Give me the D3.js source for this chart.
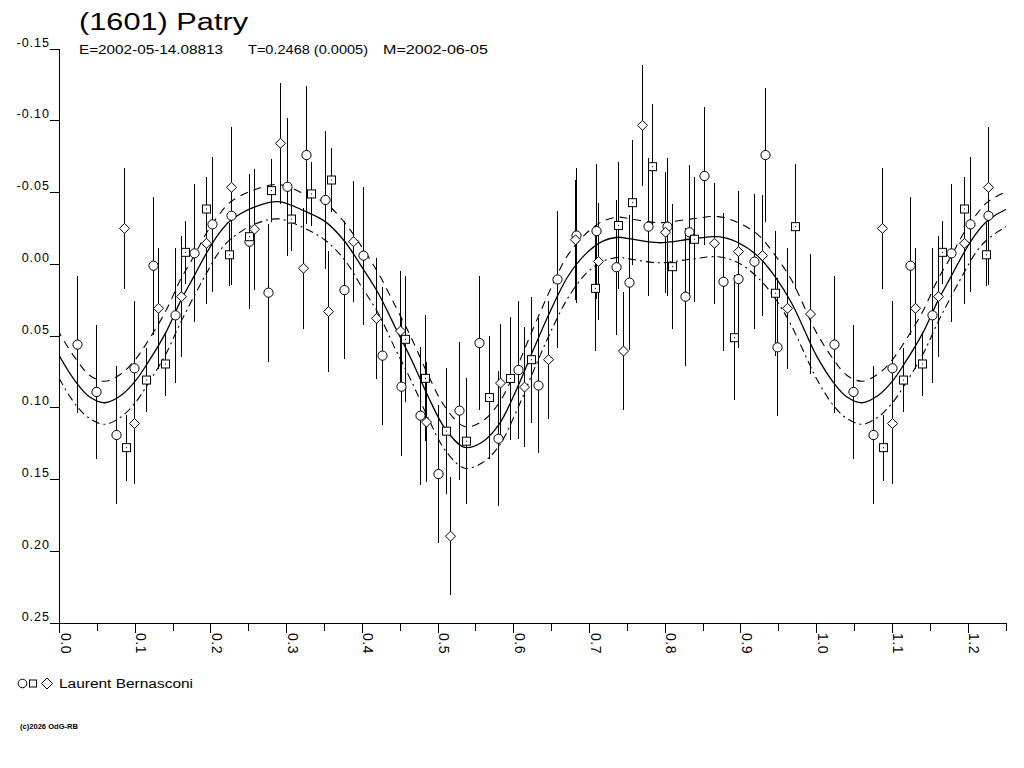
<!DOCTYPE html>
<html>
<head>
<meta charset="utf-8">
<script src="https://cdn.jsdelivr.net/npm/d3@7"></script>
<style>
  html, body { margin: 0; padding: 0; background: #fff; }
  svg { display: block; }
  text { font-family: "Liberation Sans", Arial, sans-serif; fill: #000; }
</style>
</head>
<body>
<svg id="chart" width="1024" height="768"></svg>
<script>
// ---------- data (phase, magnitude, error) ----------
const circleData = [
  [0.023, 0.056, 0.048], [0.048, 0.089, 0.047], [0.074, 0.119, 0.048], [0.099, 0.0725, 0.047],
  [0.1235, 0.001, 0.048], [0.152, 0.0356, 0.047], [0.177, -0.0076, 0.048], [0.202, -0.0278, 0.047],
  [0.226, -0.0338, 0.048], [0.250, -0.0157, 0.047], [0.276, 0.0198, 0.048], [0.3005, -0.054, 0.048],
  [0.326, -0.0761, 0.048], [0.3506, -0.0448, 0.048], [0.3753, 0.018, 0.048], [0.4004, -0.006, 0.048],
  [0.4255, 0.0637, 0.048], [0.4506, 0.0853, 0.048], [0.4757, 0.1055, 0.048], [0.5003, 0.1462, 0.048],
  [0.527, 0.102, 0.048], [0.5535, 0.0549, 0.047], [0.5788, 0.1216, 0.047], [0.6058, 0.0737, 0.048],
  [0.6317, 0.0845, 0.047], [0.6575, 0.0106, 0.048], [0.6826, -0.020, 0.047], [0.7085, -0.0231, 0.047],
  [0.735, 0.0021, 0.047], [0.7525, 0.0128, 0.047], [0.7768, -0.0262, 0.048], [0.8019, -0.0262, 0.048],
  [0.826, 0.0226, 0.048], [0.8314, -0.0223, 0.047], [0.8512, -0.0615, 0.048], [0.8758, 0.0122, 0.048],
  [0.8965, 0.0103, 0.048], [0.9168, -0.0018, 0.047], [0.9322, -0.0761, 0.047], [0.948, 0.0579, 0.048]
];
const squareData = [
  [0.0874, 0.1278, 0.023], [0.1138, 0.0807, 0.022], [0.139, 0.0695, 0.022], [0.1657, -0.0083, 0.022],
  [0.194, -0.0385, 0.022], [0.2234, -0.0066, 0.022], [0.2507, -0.0192, 0.022], [0.279, -0.0513, 0.022],
  [0.3057, -0.0315, 0.022], [0.3317, -0.049, 0.022], [0.3586, -0.0587, 0.022], [0.4559, 0.0523, 0.044],
  [0.4823, 0.0795, 0.044], [0.5098, 0.1163, 0.044], [0.5366, 0.1233, 0.044], [0.5675, 0.0929, 0.043],
  [0.5948, 0.0796, 0.043], [0.6221, 0.0665, 0.044], [0.7076, 0.0168, 0.044], [0.7372, -0.027, 0.044],
  [0.7557, -0.0429, 0.0435], [0.7829, -0.068, 0.0435], [0.8093, 0.0017, 0.0435], [0.8375, -0.0174, 0.0435],
  [0.8908, 0.0512, 0.0435], [0.9454, 0.0202, 0.0435], [0.9714, -0.0262, 0.0435]
];
const diamondData = [
  [0.0856, -0.025, 0.042], [0.0988, 0.111, 0.042], [0.130, 0.0307, 0.042], [0.1605, 0.0226, 0.042],
  [0.194, -0.0146, 0.042], [0.226, -0.0536, 0.042], [0.257, -0.0244, 0.042], [0.2908, -0.0843, 0.042],
  [0.3212, 0.0028, 0.042], [0.3542, 0.033, 0.042], [0.3876, -0.0157, 0.042], [0.418, 0.0377, 0.042],
  [0.4497, 0.0465, 0.042], [0.4836, 0.110, 0.042], [0.5157, 0.1895, 0.041], [0.5812, 0.0828, 0.041],
  [0.613, 0.0856, 0.042], [0.6453, 0.0665, 0.041], [0.6803, -0.017, 0.042], [0.7117, -0.002, 0.041],
  [0.744, 0.0605, 0.041], [0.7689, -0.0968, 0.042], [0.7997, -0.0223, 0.042], [0.8648, -0.0146, 0.042],
  [0.896, -0.0088, 0.042], [0.9274, -0.006, 0.042], [0.9612, 0.0307, 0.042], [0.9916, 0.0347, 0.042]
];

// fitted curve (phase, magnitude, band half-width)
const fitPhase = [0.000, 0.023, 0.040, 0.060, 0.082, 0.100, 0.115, 0.140, 0.160, 0.177, 0.194, 0.210,
  0.226, 0.258, 0.289, 0.324, 0.351, 0.377, 0.399, 0.421, 0.443, 0.465, 0.487, 0.509, 0.535, 0.558,
  0.580, 0.603, 0.626, 0.648, 0.671, 0.694, 0.717, 0.739, 0.750, 0.791, 0.835, 0.870, 0.8965, 0.923,
  0.945, 0.967, 0.989];
const fitMag = [0.064, 0.083, 0.0925, 0.0965, 0.0911, 0.0815, 0.0700, 0.0480, 0.0255, 0.0090, -0.0076, -0.0210,
  -0.0305, -0.0400, -0.0436, -0.0370, -0.0297, -0.0157, 0.0017, 0.0202, 0.0435, 0.0667, 0.0923, 0.1143, 0.1276, 0.1240,
  0.1120, 0.0880, 0.0593, 0.0329, 0.0089, -0.0067, -0.0159, -0.0188, -0.0180, -0.0150, -0.0176, -0.0192, -0.0150, -0.0053,
  0.0087, 0.0272, 0.0520];
const fitBand = [0.016, 0.016, 0.015, 0.015, 0.015, 0.015, 0.015, 0.015, 0.015, 0.014, 0.014, 0.013,
  0.013, 0.012, 0.012, 0.012, 0.013, 0.013, 0.014, 0.014, 0.015, 0.015, 0.015, 0.015, 0.0145, 0.0145,
  0.015, 0.015, 0.015, 0.015, 0.015, 0.014, 0.014, 0.014, 0.014, 0.014, 0.014, 0.014, 0.014, 0.015,
  0.015, 0.016, 0.016];

const yTicks = [-0.15, -0.10, -0.05, 0.00, 0.05, 0.10, 0.15, 0.20, 0.25];
const xTicks = [0.0, 0.1, 0.2, 0.3, 0.4, 0.5, 0.6, 0.7, 0.8, 0.9, 1.0, 1.1, 1.2];
const xMinorTicks = [0.05, 0.15, 0.25, 0.35, 0.45, 0.55, 0.65, 0.75, 0.85, 0.95, 1.05, 1.15, 1.25];

const titleText = "(1601) Patry";
const subtitleParts = ["E=2002-05-14.08813", "T=0.2468 (0.0005)", "M=2002-06-05"];
const observerName = "Laurent Bernasconi";
const copyrightText = "(c)2026 OdG-RB";

// ---------- scales ----------
const x = d3.scaleLinear().domain([0, 1.25]).range([59.5, 1006]);
const y = d3.scaleLinear().domain([-0.15, 0.25]).range([49, 623]);
const fmtY = v => d3.format(".2f")(v).replace("\u2212", "-");
const fmtX = v => d3.format(".1f")(v).replace("\u2212", "-");

const svg = d3.select("#chart");

// clip for the plot area
svg.append("defs").append("clipPath").attr("id", "plotclip")
  .append("rect").attr("x", x(0)).attr("y", y(-0.15)).attr("width", x(1.25) - x(0)).attr("height", y(0.25) - y(-0.15));

// ---------- title ----------
svg.append("text").attr("x", 79).attr("y", 30).attr("font-size", 23.5)
  .attr("textLength", 169).attr("lengthAdjust", "spacingAndGlyphs").text(titleText);
const subX = [79, 248, 383], subW = [144, 120, 105];
subtitleParts.forEach((t, i) => {
  svg.append("text").attr("x", subX[i]).attr("y", 54).attr("font-size", 12)
    .attr("textLength", subW[i]).attr("lengthAdjust", "spacingAndGlyphs").text(t);
});

// ---------- axes ----------
const axisG = svg.append("g").attr("stroke", "#000").attr("stroke-width", 1).attr("shape-rendering", "crispEdges");
axisG.append("line").attr("x1", x(0)).attr("x2", x(0)).attr("y1", y(-0.15)).attr("y2", y(0.25));
axisG.append("line").attr("x1", x(0)).attr("x2", x(1.25)).attr("y1", y(0.25)).attr("y2", y(0.25));

yTicks.forEach(v => {
  axisG.append("line").attr("x1", x(0) - 10).attr("x2", x(0)).attr("y1", y(v)).attr("y2", y(v));
  svg.append("text").attr("x", x(0) - 9.5).attr("y", y(v) - 2.5).attr("font-size", 12.5)
    .attr("text-anchor", "end").attr("letter-spacing", "1px").text(fmtY(v));
});
xTicks.forEach(v => {
  axisG.append("line").attr("x1", x(v)).attr("x2", x(v)).attr("y1", y(0.25)).attr("y2", y(0.25) + 10);
  svg.append("text").attr("transform", `translate(${x(v) + 1},${y(0.25) + 10}) rotate(90)`)
    .attr("font-size", 14).attr("letter-spacing", "0.5px").text(fmtX(v));
});
xMinorTicks.forEach(v => {
  axisG.append("line").attr("x1", x(v)).attr("x2", x(v)).attr("y1", y(0.25)).attr("y2", y(0.25) + 8);
});

// ---------- fitted curve + band ----------
const fitRows = fitPhase.map((p, i) => ({ p, m: fitMag[i], s: fitBand[i] }));
const extended = [];
[-1, 0, 1].forEach(k => fitRows.forEach(r => {
  const pp = r.p + k;
  if (pp >= -0.06 && pp <= 1.32) extended.push({ p: pp, m: r.m, s: r.s });
}));
extended.sort((a, b) => a.p - b.p);

const plot = svg.append("g").attr("clip-path", "url(#plotclip)");
const lineGen = acc => d3.line().x(d => x(d.p)).y(acc).curve(d3.curveCatmullRom.alpha(0.5));

plot.append("path").datum(extended).attr("fill", "none").attr("stroke", "#000").attr("stroke-width", 1.3)
  .attr("d", lineGen(d => y(d.m)));
plot.append("path").datum(extended).attr("fill", "none").attr("stroke", "#000").attr("stroke-width", 1.1)
  .attr("stroke-dasharray", "8,6").attr("d", lineGen(d => y(d.m - d.s)));
plot.append("path").datum(extended).attr("fill", "none").attr("stroke", "#000").attr("stroke-width", 1.1)
  .attr("stroke-dasharray", "8,4,2,4").attr("d", lineGen(d => y(d.m + d.s)));

// ---------- observations ----------
function expand(arr) {
  const out = [];
  arr.forEach(([p, m, e]) => {
    out.push({ p, m, e });
    if (p + 1 < 1.248) out.push({ p: p + 1, m, e });
  });
  return out;
}
const series = [
  { data: expand(circleData), shape: "circle" },
  { data: expand(squareData), shape: "square" },
  { data: expand(diamondData), shape: "diamond" }
];

const barG = svg.append("g").attr("stroke", "#000").attr("stroke-width", 1).attr("shape-rendering", "crispEdges");
series.forEach(s => {
  barG.selectAll(null).data(s.data).enter().append("line")
    .attr("x1", d => Math.round(x(d.p)) + 0.5).attr("x2", d => Math.round(x(d.p)) + 0.5)
    .attr("y1", d => y(d.m - d.e)).attr("y2", d => y(d.m + d.e));
});

const markG = svg.append("g").attr("stroke", "#000").attr("stroke-width", 1).attr("fill", "#fff");
series.forEach(s => {
  const sel = markG.selectAll(null).data(s.data).enter();
  if (s.shape === "circle") {
    sel.append("circle").attr("cx", d => Math.round(x(d.p)) + 0.5).attr("cy", d => y(d.m)).attr("r", 4.6);
  } else if (s.shape === "square") {
    sel.append("rect").attr("x", d => Math.round(x(d.p)) + 0.5 - 4).attr("y", d => y(d.m) - 4)
      .attr("width", 8).attr("height", 8);
    sel.append("rect").attr("x", d => Math.round(x(d.p))).attr("y", d => y(d.m) - 0.5)
      .attr("width", 1).attr("height", 1).attr("fill", "#000").attr("stroke", "none");
  } else {
    sel.append("path").attr("d", d => {
      const cx = Math.round(x(d.p)) + 0.5, cy = y(d.m), r = 5;
      return `M${cx},${cy - r}L${cx + r},${cy}L${cx},${cy + r}L${cx - r},${cy}Z`;
    });
  }
});

// ---------- legend ----------
const lg = svg.append("g").attr("stroke", "#000").attr("stroke-width", 1).attr("fill", "#fff");
lg.append("circle").attr("cx", 22.5).attr("cy", 683.5).attr("r", 4.3);
lg.append("rect").attr("x", 29.5).attr("y", 680).attr("width", 7).attr("height", 7);
lg.append("path").attr("d", "M47,678L52.5,683.5L47,689L41.5,683.5Z");
svg.append("text").attr("x", 59).attr("y", 688).attr("font-size", 12.5)
  .attr("textLength", 134).attr("lengthAdjust", "spacingAndGlyphs").text(observerName);

svg.append("text").attr("x", 20).attr("y", 729).attr("font-size", 7).attr("font-weight", "bold")
  .attr("textLength", 58).attr("lengthAdjust", "spacingAndGlyphs").text(copyrightText);
</script>
</body>
</html>
